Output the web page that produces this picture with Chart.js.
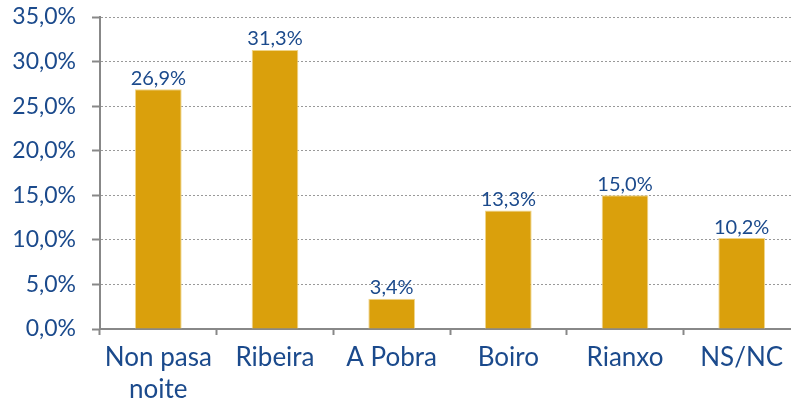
<!DOCTYPE html>
<html>
<head>
<meta charset="utf-8">
<script src="https://cdn.jsdelivr.net/npm/chart.js@4.4.1/dist/chart.umd.min.js"></script>
<style>
  html, body { margin: 0; padding: 0; background: #fff; overflow: hidden; }
  #wrap { width: 800px; height: 409px; }
</style>
</head>
<body>
<div id="wrap"><canvas id="chart" width="800" height="409"></canvas></div>
<script>
const categories = [['Non pasa', 'noite'], 'Ribeira', 'A Pobra', 'Boiro', 'Rianxo', 'NS/NC'];
const values = [26.9, 31.3, 3.4, 13.3, 15.0, 10.2];
const yTicks = [0, 5, 10, 15, 20, 25, 30, 35];

const blue = '#1B4A8C';
const fmt = v => v.toFixed(1).replace('.', ',') + '%';

// labels above each bar
const valueLabels = {
    id: 'valueLabels',
    afterDatasetsDraw(chart) {
        const ctx = chart.ctx;
        const meta = chart.getDatasetMeta(0);
        ctx.save();
        ctx.font = '20px Lato';
        ctx.fillStyle = blue;
        ctx.textAlign = 'center';
        ctx.textBaseline = 'bottom';
        meta.data.forEach((bar, i) => {
            ctx.fillText(fmt(values[i]), bar.x, bar.y - 1);
        });
        ctx.restore();
    }
};

new Chart(document.getElementById('chart'), {
    type: 'bar',
    data: {
        labels: categories,
        datasets: [{
            data: values,
            backgroundColor: '#DAA00C',
            borderColor: '#F0D58A',
            borderWidth: 1,
            categoryPercentage: 1,
            barPercentage: 0.4
        }]
    },
    options: {
        responsive: false,
        animation: false,
        layout: { padding: { top: 17, right: 0, bottom: 0, left: 0 } },
        plugins: { legend: { display: false }, tooltip: { enabled: false } },
        scales: {
            x: {
                afterFit: s => { s.height = 80; s.paddingLeft = 0; s.paddingRight = 0; },
                grid: { offset: true, drawOnChartArea: false, drawTicks: true, tickLength: 6, tickColor: '#888', tickWidth: 2 },
                border: { color: '#888', width: 2 },
                ticks: { color: blue, font: { family: 'Lato', size: 26, lineHeight: 1.25 }, padding: 6, maxRotation: 0 }
            },
            y: {
                min: 0,
                max: 35,
                afterFit: s => { s.width = 100; s.paddingTop = 0; s.paddingBottom = 0; },
                afterBuildTicks: s => { s.ticks = yTicks.map(v => ({ value: v })); },
                grid: { color: '#999', lineWidth: 1, tickLength: 8, tickColor: '#888', tickWidth: 2, tickBorderDash: [] },
                border: { color: '#888', width: 2, dash: [2, 2] },
                ticks: { color: blue, font: { family: 'Lato', size: 23 }, padding: 16, callback: v => fmt(v) }
            }
        }
    },
    plugins: [valueLabels]
});
</script>
</body>
</html>
